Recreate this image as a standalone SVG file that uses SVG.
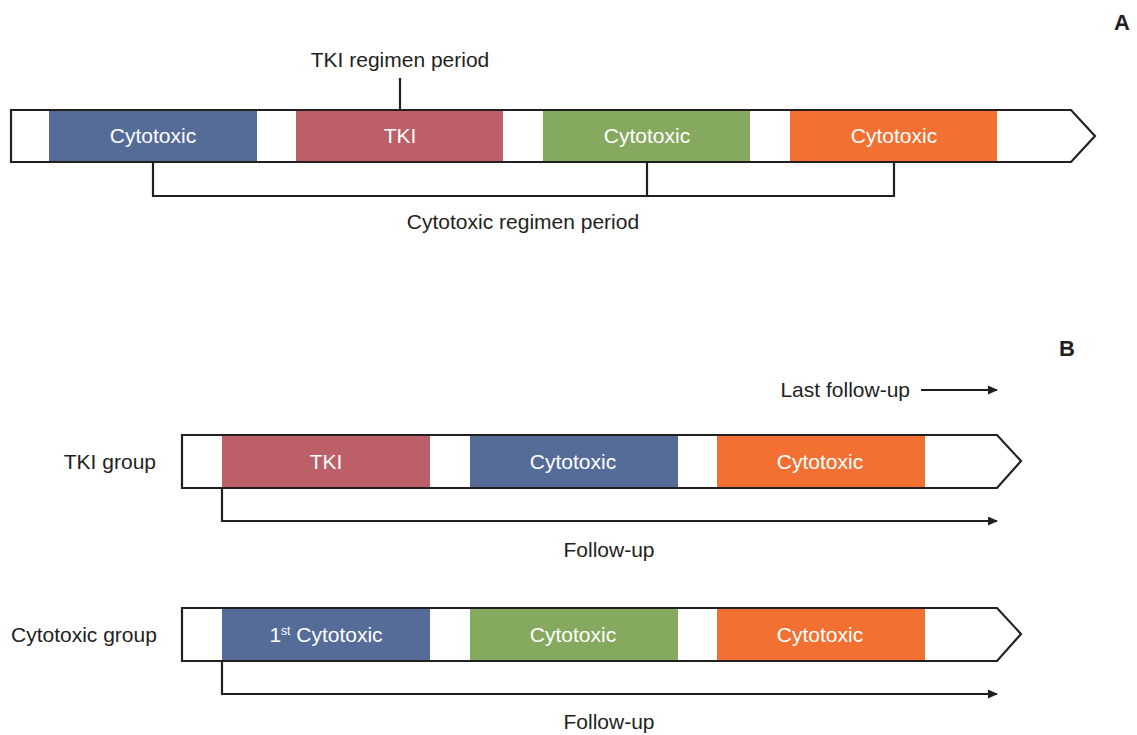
<svg xmlns="http://www.w3.org/2000/svg" width="1137" height="735" viewBox="0 0 1137 735">
<style>
.bar{fill:#fff;stroke:#231f20;stroke-width:2.2}
.ln{fill:none;stroke:#231f20;stroke-width:2.2}
.t{font-family:"Liberation Sans Narrow","Liberation Sans",sans-serif;font-size:21px;fill:#231f20}
.w{font-family:"Liberation Sans Narrow","Liberation Sans",sans-serif;font-size:21px;fill:#fff;text-anchor:middle}
.bold{font-family:"Liberation Sans","Arial",sans-serif;font-size:22px;font-weight:bold;fill:#231f20}
.blue{fill:#556c99}.red{fill:#bc5f68}.green{fill:#85aa5f}.orange{fill:#f27132}
</style>
<defs>
<marker id="ah" markerWidth="10" markerHeight="10" refX="9" refY="4.5" orient="auto" markerUnits="userSpaceOnUse">
<path d="M0,0 L10,4.5 L0,9 Z" fill="#231f20"/>
</marker>
</defs>
<text class="bold" x="1114" y="30">A</text>
<text class="bold" x="1059" y="356">B</text>
<g id="panelA">
<polygon class="bar" points="11,110 1071,110 1095,136 1071,162 11,162"/>
<g id="a1"><rect class="blue" x="49" y="111" width="208" height="50"/><text class="w" x="153" y="143">Cytotoxic</text></g>
<g id="a2"><rect class="red" x="296" y="111" width="207" height="50"/><text class="w" x="400" y="143">TKI</text></g>
<g id="a3"><rect class="green" x="543" y="111" width="207" height="50"/><text class="w" x="647" y="143">Cytotoxic</text></g>
<g id="a4"><rect class="orange" x="790" y="111" width="207" height="50"/><text class="w" x="894" y="143">Cytotoxic</text></g>
<text class="t" x="400" y="67" text-anchor="middle">TKI regimen period</text>
<text class="t" x="523" y="229" text-anchor="middle">Cytotoxic regimen period</text>
</g>
<g id="panelB1">
<text class="t" x="156" y="469" text-anchor="end">TKI group</text>
<polygon class="bar" points="182,435 997,435 1021,461 997,488 182,488"/>
<g id="b1"><rect class="red" x="222" y="436" width="208" height="51"/><text class="w" x="326" y="469">TKI</text></g>
<g id="b2"><rect class="blue" x="470" y="436" width="208" height="51"/><text class="w" x="573" y="469">Cytotoxic</text></g>
<g id="b3"><rect class="orange" x="717" y="436" width="208" height="51"/><text class="w" x="820" y="469">Cytotoxic</text></g>
<text class="t" x="910" y="397" text-anchor="end">Last follow-up</text>
<text class="t" x="609" y="557" text-anchor="middle">Follow-up</text>
</g>
<g id="panelB2">
<text class="t" x="11" y="642">Cytotoxic group</text>
<polygon class="bar" points="182,608 997,608 1021,634 997,661 182,661"/>
<g id="c1"><rect class="blue" x="222" y="609" width="208" height="51"/><text class="w" x="326" y="642">1<tspan font-size="12" dy="-7">st</tspan><tspan dy="7"> Cytotoxic</tspan></text></g>
<g id="c2"><rect class="green" x="470" y="609" width="208" height="51"/><text class="w" x="573" y="642">Cytotoxic</text></g>
<g id="c3"><rect class="orange" x="717" y="609" width="208" height="51"/><text class="w" x="820" y="642">Cytotoxic</text></g>
<text class="t" x="609" y="729" text-anchor="middle">Follow-up</text>
</g>
<g id="connectors">
<path class="ln" d="M400,78 V110"/>
<path class="ln" d="M153,162 V196 H894 V162 M647,162 V196"/>
<path class="ln" d="M921,390 H997" marker-end="url(#ah)"/>
<path class="ln" d="M222,488 V521 H997" marker-end="url(#ah)"/>
<path class="ln" d="M222,661 V694 H997" marker-end="url(#ah)"/>
</g>
</svg>
